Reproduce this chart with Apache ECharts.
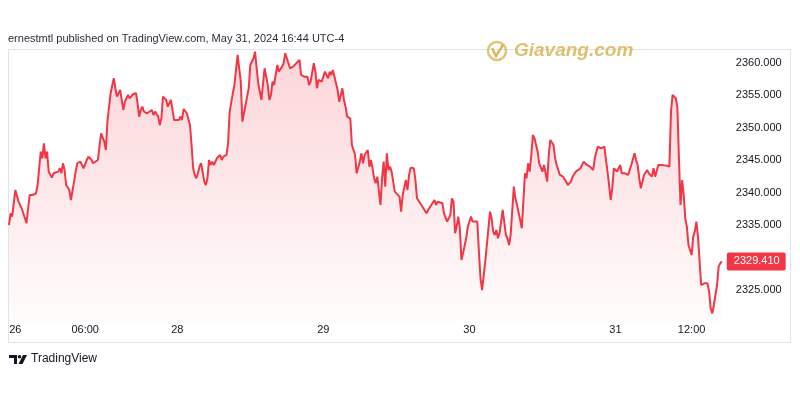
<!DOCTYPE html>
<html>
<head>
<meta charset="utf-8">
<script src="https://cdn.jsdelivr.net/npm/echarts@6/dist/echarts.min.js"></script>
<style>
html,body{margin:0;padding:0;background:#fff;}
#chart{width:800px;height:400px;}
</style>
</head>
<body>
<div id="chart"></div>
<script>
// 15-minute bar index (trading time) of each sampled point
const barIndex = [0,1,2,4,5,6,8,9,10,11,13,14,15,16,17,18,20,21,22,23,24,25,26,27,28,29,31,32,33,34,35,36,38,39,40,41,42,43,45,46,47,49,50,52,53,54,56,57,58,60,61,62,64,66,67,68,69,70,71,72,73,74,75,76,78,80,81,82,83,84,85,87,88,90,91,92,94,95,96,97,99,100,101,102,103,104,105,107,108,109,110,112,113,114,115,116,117,118,119,120,121,122,123,124,125,126,127,128,129,131,132,133,134,135,137,138,139,141,142,144,146,147,
149,151,152,154,155,156,157,158,159,161,163,164,165,166,167,169,170,172,173,174,175,176,177,179,181,183,184,186,188,189,190,192,193,194,195,197,199,200,201,202,203,204,205,207,208,210,211,212,213,215,216,218,219,221,222,223,224,226,227,228,229,230,231,232,234,235,236,237,238,239,240,241,242,243,244,246,247,248,250,251,252,253,255,256,257,259,260,261,262,263,264,265,266,268,269,270,271,273,274,275,276,278,279,280,281,282,283,284,285,286,287,288,289,290,291,292,293,295,296,297,298,
300,303,304,305,306,307,308,309,310,311,312,313,314,315,316,318,319,320,321,322,323,324,325,326,327,328,329,330,331,332,333,334,335,336,337,339,340,341,343,344,345,346,347,349,350,351,352,354,355,357,358,360,361,362,364,365,366,368,369,370,371,373,374,375,376,377,378,379,380,381,382,383,385,386,388,389,390,391,392,394,395,396,397,398,399,400,402,403,404,405,406,407,409,410,411,412,414,416,417,418,419,420,421,422,423,424,425,426,427,428,429,430,431,432,433,434,435,436,437,438,440,441,442,443,444,446,447,448,449];

const price = [2335.01,2336.81,2336.30,2340.40,2340.14,2338.60,2337.58,2336.81,2336.55,2335.27,2339.63,2339.37,2339.63,2339.37,2339.89,2341.17,2346.30,2345.28,2347.59,2345.28,2346.30,2343.22,2342.97,2342.30,2342.97,2343.07,2343.22,2343.74,2342.97,2344.51,2343.48,2341.17,2340.40,2338.86,2338.86,2341.68,2343.22,2344.51,2344.76,2345.02,2343.74,2345.02,2345.53,2345.02,2344.51,2344.76,2345.02,2345.28,2349.13,2347.84,2346.56,2350.92,2355.29,2357.60,2356.06,2354.77,2354.77,2355.80,2354.26,2352.72,2354.00,2354.52,2355.03,2354.52,2355.13,2355.29,2353.75,2351.69,2352.72,2353.23,2352.46,2352.21,2352.46,2352.72,2351.95,2352.46,2351.69,2350.41,2351.44,2354.77,2354.26,2353.23,2353.49,2354.26,2352.72,2351.18,2350.92,2351.18,2351.69,2351.18,2352.87,2352.21,2351.95,2350.41,2347.33,2343.74,2342.71,2342.20,2342.97,2343.99,2344.51,2344.25,2341.68,2341.17,2342.20,2345.02,2344.25,2344.76,2344.25,2345.28,2345.02,2345.79,2345.02,2345.53,2345.79,2347.59,2352.46,2355.29,2356.57,2361.19,2357.08,2350.92,
2353.49,2356.06,2359.65,2360.68,2361.70,2359.14,2356.83,2356.57,2354.26,2359.14,2356.57,2354.26,2355.03,2357.08,2356.57,2359.65,2358.62,2359.39,2359.91,2361.45,2361.60,2359.91,2359.14,2359.39,2359.91,2360.42,2358.11,2357.85,2357.85,2356.57,2357.08,2359.91,2358.62,2356.06,2357.34,2357.08,2358.62,2358.37,2357.60,2358.62,2358.11,2358.88,2358.62,2355.80,2354.00,2356.06,2354.26,2353.23,2351.69,2351.44,2347.33,2345.79,2342.97,2344.76,2346.05,2344.51,2345.79,2346.56,2343.99,2345.02,2343.74,2342.20,2341.43,2342.45,2338.09,2342.20,2344.76,2340.91,2346.05,2343.48,2343.99,2343.22,2342.97,2340.14,2339.89,2339.37,2337.06,2339.63,2341.94,2340.40,2342.71,2343.84,2343.74,2341.94,2339.12,2338.35,2338.60,2337.58,2337.83,2336.81,2337.32,2337.32,2338.09,2338.86,2338.09,2338.60,2338.60,2338.35,2336.81,2336.81,2335.53,2336.55,2339.12,2338.60,2333.73,2334.76,2336.30,2334.50,2329.62,2330.65,2330.91,2332.96,2334.76,2335.01,2336.30,2335.53,2335.53,2335.53,2330.91,2326.80,2325.00,
2329.37,2337.06,2336.04,2333.99,2333.47,2334.24,2332.96,2333.73,2335.53,2337.32,2337.06,2333.47,2332.96,2331.93,2333.47,2340.91,2339.12,2338.09,2337.83,2335.78,2334.50,2338.60,2342.97,2342.20,2344.51,2343.22,2345.79,2348.87,2348.36,2348.61,2346.30,2344.51,2344.25,2343.22,2344.25,2341.68,2345.79,2348.10,2347.33,2345.28,2344.25,2344.51,2342.71,2342.45,2342.45,2341.68,2341.17,2341.68,2342.45,2343.22,2343.48,2343.74,2343.99,2344.76,2344.25,2343.99,2343.99,2343.48,2345.28,2346.30,2347.07,2346.82,2347.07,2347.07,2347.07,2343.22,2341.17,2338.86,2340.66,2343.74,2343.99,2343.22,2344.25,2342.97,2342.97,2342.97,2342.71,2343.48,2344.25,2346.05,2345.02,2344.25,2342.20,2340.66,2341.68,2342.71,2343.48,2342.97,2343.22,2342.45,2343.74,2342.45,2344.25,2344.51,2344.25,2343.99,2344.15,2343.99,2352.46,2355.03,2355.03,2354.52,2353.23,2345.28,2338.09,2341.94,2339.63,2336.04,2334.76,2331.93,2331.16,2330.39,2333.22,2333.99,2335.53,2333.22,2332.96,2325.77,2326.03,2326.03,2326.03,2324.75,2322.18,2321.41,2322.69,2325.77,2328.60,2329.11,2329.41];

// x-axis tick positions (bar index) and their labels
const xTickBars = [4, 48, 106, 198, 290, 382, 430];
const xTickLabels = ['26', '06:00', '28', '29', '30', '31', '12:00'];
// price-axis labels shown
const yTickValues = [2325, 2335, 2340, 2345, 2350, 2355, 2360];
const lastPrice = 2329.41;

const headerText = 'ernestmtl published on TradingView.com, May 31, 2024 16:44 UTC-4';
const watermarkText = 'Giavang.com';
const brandText = 'TradingView';

const seriesData = barIndex.map((b, i) => [b, price[i]]);

const chart = echarts.init(document.getElementById('chart'), null, {renderer: 'canvas'});
const FONT = "'Liberation Sans', Arial, sans-serif";
const RED = '#f23645';

chart.setOption({
  animation: false,
  backgroundColor: '#ffffff',
  grid: {left: 9, right: 78.2, top: 30.2, bottom: 77.5, containLabel: false},
  xAxis: {
    type: 'value', min: 0, max: 449,
    axisLine: {show: false}, axisTick: {show: false}, splitLine: {show: false},
    axisLabel: {
      customValues: xTickBars,
      formatter: v => { const k = xTickBars.indexOf(v); return k >= 0 ? xTickLabels[k] : ''; },
      color: '#131722', fontSize: 11, fontFamily: FONT, margin: 2
    }
  },
  yAxis: {
    type: 'value', position: 'right', min: 2320, max: 2365, interval: 5,
    axisLine: {show: false}, axisTick: {show: false}, splitLine: {show: false},
    axisLabel: {
      showMinLabel: false, showMaxLabel: false,
      formatter: v => yTickValues.indexOf(v) >= 0 ? v.toFixed(3) : '',
      color: '#131722', fontSize: 11, fontFamily: FONT, margin: 14
    }
  },
  series: [{
    type: 'line',
    data: seriesData,
    showSymbol: false,
    symbol: 'none',
    lineStyle: {color: RED, width: 2},
    areaStyle: {
      color: new echarts.graphic.LinearGradient(0, 0, 0, 1, [
        {offset: 0, color: 'rgba(242,54,69,0.30)'},
        {offset: 1, color: 'rgba(242,54,69,0.02)'}
      ])
    },
    markLine: {
      silent: true, symbol: ['none', 'none'],
      lineStyle: {color: 'rgba(0,0,0,0)', width: 1, type: 'solid'},
      emphasis: {disabled: true},
      data: [{yAxis: lastPrice, label: {
        show: true, position: 'end', distance: 5,
        formatter: lastPrice.toFixed(3),
        color: '#ffffff', backgroundColor: RED, borderRadius: 2,
        padding: [4, 6, 3, 7], fontSize: 11, fontFamily: FONT
      }}]
    }
  }],
  graphic: [
    {type: 'rect', silent: true, z: -1, shape: {x: 8.5, y: 49.5, width: 782, height: 293},
     style: {fill: null, stroke: '#e0e3eb', lineWidth: 1}},
    {type: 'text', left: 8, top: 33, silent: true,
     style: {text: headerText, fill: '#2a2e39', font: "11px " + FONT}},
    // watermark logo
    {type: 'circle', silent: true, z: 10, shape: {cx: 497, cy: 51, r: 9},
     style: {fill: null, stroke: '#dcbc5a', lineWidth: 2.5, opacity: 0.85}},
    {type: 'polyline', silent: true, z: 10, shape: {points: [[492, 48], [496, 56], [503, 45]]},
     style: {fill: null, stroke: '#d4ac45', lineWidth: 2.5, opacity: 0.85}},
    {type: 'text', left: 514, top: 41, silent: true, z: 10,
     style: {text: watermarkText, fill: '#d8b553', opacity: 0.85,
             font: "italic bold 19px " + FONT}},
    // TradingView brand
    {type: 'polygon', silent: true, shape: {points: [[9, 355], [17, 355], [17, 364], [14, 364], [14, 358], [9, 358]]},
     style: {fill: '#131722'}},
    {type: 'circle', silent: true, shape: {cx: 19.5, cy: 356.8, r: 1.8}, style: {fill: '#131722'}},
    {type: 'polygon', silent: true, shape: {points: [[23, 355], [27, 355], [22.5, 364], [18.5, 364]]},
     style: {fill: '#131722'}},
    {type: 'text', left: 31, top: 353, silent: true,
     style: {text: brandText, fill: '#131722', font: "12px " + FONT}}
  ]
});
</script>
</body>
</html>
